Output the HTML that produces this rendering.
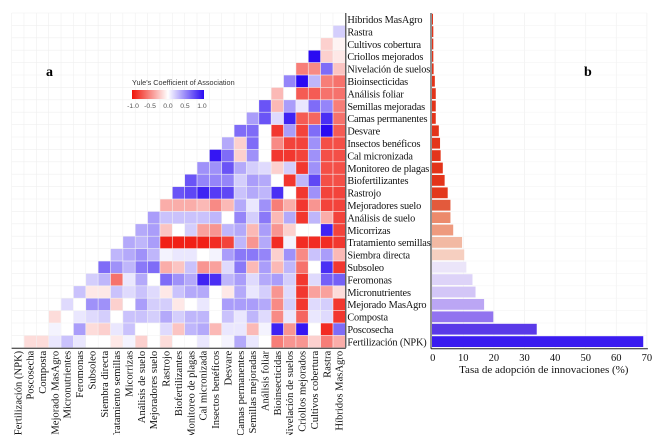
<!DOCTYPE html>
<html><head><meta charset="utf-8"><style>
html,body{margin:0;padding:0;background:#fff;}
svg{display:block;}
</style></head><body>
<svg id="chart" width="667" height="435" viewBox="0 0 667 435" xmlns="http://www.w3.org/2000/svg">
<defs>
<linearGradient id="lg" x1="0" x2="1" y1="0" y2="0">
<stop offset="0" stop-color="#f0140a"/><stop offset="0.5" stop-color="#ffffff"/><stop offset="1" stop-color="#2a0af2"/>
</linearGradient>
</defs>
<g id="grid"></g>
<g id="cells"></g>
<g id="bgrid"></g>
<g id="bars"></g>
<g id="labels"></g>
<text x="46" y="76" font-family="Liberation Serif, serif" font-weight="bold" font-size="14">a</text>
<text x="584" y="76" font-family="Liberation Serif, serif" font-weight="bold" font-size="14">b</text>
<g>
<text x="132" y="85" font-family="Liberation Sans, sans-serif" font-size="7.3" fill="#333">Yule's Coefficient of Association</text>
<rect x="132" y="90" width="72" height="9" fill="url(#lg)"/>
<text x="133" y="108" font-family="Liberation Sans, sans-serif" font-size="6.8" fill="#555" text-anchor="middle">-1.0</text>
<text x="150" y="108" font-family="Liberation Sans, sans-serif" font-size="6.8" fill="#555" text-anchor="middle">-0.5</text>
<text x="168" y="108" font-family="Liberation Sans, sans-serif" font-size="6.8" fill="#555" text-anchor="middle">0.0</text>
<text x="185" y="108" font-family="Liberation Sans, sans-serif" font-size="6.8" fill="#555" text-anchor="middle">0.5</text>
<text x="202" y="108" font-family="Liberation Sans, sans-serif" font-size="6.8" fill="#555" text-anchor="middle">1.0</text>
</g>
</svg>
<script>
const items = ["Fertilización (NPK)","Poscosecha","Composta","Mejorado MasAgro","Micronutrientes","Feromonas","Subsoleo","Siembra directa","Tratamiento semillas","Micorrizas","Análisis de suelo","Mejoradores suelo","Rastrojo","Biofertilizantes","Monitoreo de plagas","Cal micronizada","Insectos benéficos","Desvare","Camas permanentes","Semillas mejoradas","Análisis foliar","Bioinsecticidas","Nivelación de suelos","Criollos mejorados","Cultivos cobertura","Rastra","Híbridos MasAgro"];
const rowLabels = ["Híbridos MasAgro","Rastra","Cultivos cobertura","Criollos mejorados","Nivelación de suelos","Bioinsecticidas","Análisis foliar","Semillas mejoradas","Camas permanentes","Desvare","Insectos benéficos","Cal micronizada","Monitoreo de plagas","Biofertilizantes","Rastrojo","Mejoradores suelo","Análisis de suelo","Micorrizas","Tratamiento semillas","Siembra directa","Subsoleo","Feromonas","Micronutrientes","Mejorado MasAgro","Composta","Poscosecha","Fertilización (NPK)"];
const yule = [
[],
[0.2],
[-0.2,-0.05],
[1.0,-0.2,-0.1],
[-0.55,-0.5,0.6,-0.25],
[0.5,1.0,0.3,-0.55,-0.6],
[-0.3,0,-0.7,-0.7,-0.6,-0.6],
[0.7,-0.3,0.4,0.1,0.6,0.5,-0.55],
[0.4,0.7,0.15,0.9,-0.7,-0.65,0.85,-0.6],
[0.6,0.6,0,-0.85,0.4,-0.8,0.6,1.0,-0.7],
[0.35,-0.2,0.6,0,-0.5,-0.8,-0.8,0.45,-0.75,-0.75],
[0.95,0.6,-0.2,0.45,0,-0.85,-0.85,-0.8,0.45,-0.75,-0.75],
[0.45,0.45,0.7,0.35,0.2,0.15,-0.2,0.2,-0.85,0.45,-0.75,-0.75],
[0.7,0.5,0.5,0.5,0.2,0.4,0.35,0,-0.85,0.3,0.75,-0.75,-0.75],
[0.7,0.75,0.9,0.8,0.75,0.25,0.35,0.3,0.85,0,-0.85,0.45,-0.8,-0.8],
[-0.35,-0.35,-0.35,-0.3,-0.5,-0.3,0.35,0.1,0.45,-0.55,-0.35,-0.85,-0.45,-0.8,-0.8],
[0.4,0.25,0.25,0.25,0.25,0.3,0,0.5,0.2,0.55,-0.3,0.35,-0.85,0.3,-0.35,-0.8],
[0.35,0.4,-0.25,0,0.2,-0.4,-0.45,0.3,0.35,-0.3,0.4,-0.45,-0.2,0,0,0.9,-0.8],
[0.35,0.3,0.4,-0.95,-0.95,-0.95,-0.95,-0.9,-0.8,0.3,-0.45,0.35,-0.9,0.05,-0.9,-0.9,-0.9,-0.85],
[0.3,0.35,0.45,0.3,0.05,0.1,0.1,0,0.05,0.4,0.55,0.55,0.5,-0.2,0.45,-0.5,0.25,0.4,-0.3],
[0.6,0.45,0.3,0.55,0.6,-0.35,-0.25,0.25,-0.45,-0.4,0.15,0.55,-0.3,0.4,-0.3,0.3,-0.6,0,0.85,-0.85],
[0.2,0.3,-0.6,0.1,0.35,0,0.6,0.45,0.35,0.9,0.85,0.3,0.4,0.15,0.35,0.4,0.2,-0.85,0.15,0.65,0.65],
[0.25,-0.1,-0.1,0.25,0.15,0.25,0.15,-0.1,0.25,0.35,0.35,0,-0.1,0.35,0.1,0.2,-0.45,0.15,-0.85,-0.4,-0.4,-0.15],
[0.15,0,0.45,0.45,-0.2,0,0.4,0.2,0.2,-0.1,0,0.1,0,0.4,0.4,0.4,0.35,-0.5,0.2,-0.85,0.15,0.2,-0.85],
[-0.15,0,0.1,0.15,0.2,0,0.25,0.25,0.2,0.35,0.2,0.3,0.3,0,0.25,0.1,0.3,0.15,-0.5,0.1,-0.65,0.1,0.15,-0.85],
[0,0.05,0,0.4,-0.15,-0.2,0.1,0.25,0,0,0.15,-0.25,0.3,0.35,-0.3,0.1,0.1,-0.3,0.05,0.9,-0.45,0.95,0,-0.9,0.6],
[-0.15,-0.15,0.1,0.25,0.1,0,0,-0.1,0.05,-0.2,0,-0.15,0,0,0.1,0,0.05,0.35,0.1,0,-0.55,-0.45,-0.45,-0.2,-0.55,-0.35]
];
const adoption = [0.1,0.2,0.2,0.2,0.3,0.7,1.0,1.0,1.0,2.0,2.4,2.6,3.3,3.9,4.9,5.8,5.8,6.7,9.6,10.3,11,13,14,16.8,19.8,34,68.8];
const xTicks = [0,10,20,30,40,50,60,70];

const NS="http://www.w3.org/2000/svg";
const svg=document.getElementById('chart');
function mk(tag,attrs,parent){const e=document.createElementNS(NS,tag);for(const k in attrs)e.setAttribute(k,attrs[k]);parent.appendChild(e);return e;}
const X0=11.6, CW=12.36, Y0=13, RH=12.4, N=27;
const colX=j=>X0+j*CW;
const rowY=i=>Y0+i*RH;
function yuleColor(v){
  v=Math.max(-1,Math.min(1,v));
  let r,g,b;
  if(v<0){const t=-v;r=255+(240-255)*t;g=255+(20-255)*t;b=255+(10-255)*t;}
  else{const t=v;r=255+(42-255)*t;g=255+(10-255)*t;b=255+(242-255)*t;}
  return `rgb(${Math.round(r)},${Math.round(g)},${Math.round(b)})`;
}
const grid=document.getElementById('grid');
for(let j=0;j<=N;j++){mk('line',{x1:colX(j),x2:colX(j),y1:Y0,y2:rowY(N),stroke:'#efefef','stroke-width':0.6},grid);}
for(let i=0;i<=N;i++){mk('line',{x1:X0,x2:colX(N),y1:rowY(i),y2:rowY(i),stroke:'#efefef','stroke-width':0.6},grid);}
const cells=document.getElementById('cells');
yule.forEach((row,i)=>{
  row.forEach((v,k)=>{
    const j=N-i+k;
    const r=mk('rect',{x:colX(j)+0.3,y:rowY(i)+0.3,width:CW-0.6,height:RH-0.6,fill:yuleColor(v)},cells);
    
    
  });
});
const labels=document.getElementById('labels');
let ax=mk('line',{x1:colX(N)+0.5,x2:colX(N)+0.5,y1:Y0,y2:rowY(N),stroke:'#222','stroke-width':1},labels);


let bx=mk('line',{x1:X0,x2:colX(N)+0.5,y1:rowY(N)+0.5,y2:rowY(N)+0.5,stroke:'#222','stroke-width':1},labels);


rowLabels.forEach((t,i)=>{
  const e=mk('text',{x:colX(N)+2,y:rowY(i)+RH/2+3.8,'font-family':'Liberation Serif, serif','font-size':10.3,'letter-spacing':-0.15,fill:'#111'},labels);
  e.textContent=t;
  
  
});
items.forEach((t,j)=>{
  const cx=colX(j)+CW/2+3.5, cy=rowY(N)+3;
  const e=mk('text',{x:cx,y:cy,transform:`rotate(-90 ${cx} ${cy})`,'text-anchor':'end','font-family':'Liberation Serif, serif','font-size':10.6,fill:'#111'},labels);
  e.textContent=t;
  
  
});
const BX0=432.7, BS=3.06;
const bxs=v=>BX0+v*BS;
const bgrid=document.getElementById('bgrid');
xTicks.forEach(t=>{mk('line',{x1:bxs(t),x2:bxs(t),y1:Y0,y2:rowY(N),stroke:'#f0f0f0','stroke-width':0.7},bgrid);});
for(let i=0;i<=N;i++){mk('line',{x1:431,x2:bxs(70),y1:rowY(i),y2:rowY(i),stroke:'#f4f4f4','stroke-width':0.6},bgrid);}
const barColors=["#e3341a","#e3341a","#e3341a","#e3341a","#e3341a","#e3341a","#e3341a","#e3341a","#e3341a","#e3341a","#e3341a","#e3341a","#e3341a","#e3341a","#e3381c","#e35a3c","#ec8a6c","#ee9a7e","#f2b9a3","#f6cfc0","#ebe5f9","#ddd3f8","#d3c6f7","#bba6f4","#9274ef","#5a3ae8","#3a1cf0"];
const bars=document.getElementById('bars');
adoption.forEach((v,i)=>{
  const r=mk('rect',{x:432,y:rowY(i)+0.8,width:Math.max(0.6,bxs(v)-432),height:RH-1.6,fill:barColors[i]},bars);
  
  
});
let yax=mk('line',{x1:431,x2:431,y1:Y0,y2:rowY(N)+1,stroke:'#222','stroke-width':1},labels);


let xax=mk('line',{x1:431,x2:bxs(70)+1,y1:rowY(N)+1,y2:rowY(N)+1,stroke:'#222','stroke-width':1},labels);


xTicks.forEach(t=>{
  const e=mk('text',{x:bxs(t),y:rowY(N)+13,'text-anchor':'middle','font-family':'Liberation Serif, serif','font-size':10.5,fill:'#111'},labels);
  e.textContent=t;
  
  
});
const tt=mk('text',{x:bxs(35)+4,y:rowY(N)+25,'text-anchor':'middle','font-family':'Liberation Serif, serif','font-size':11,fill:'#111'},labels);
tt.textContent='Tasa de adopción de innovaciones (%)';


</script>
</body></html>
